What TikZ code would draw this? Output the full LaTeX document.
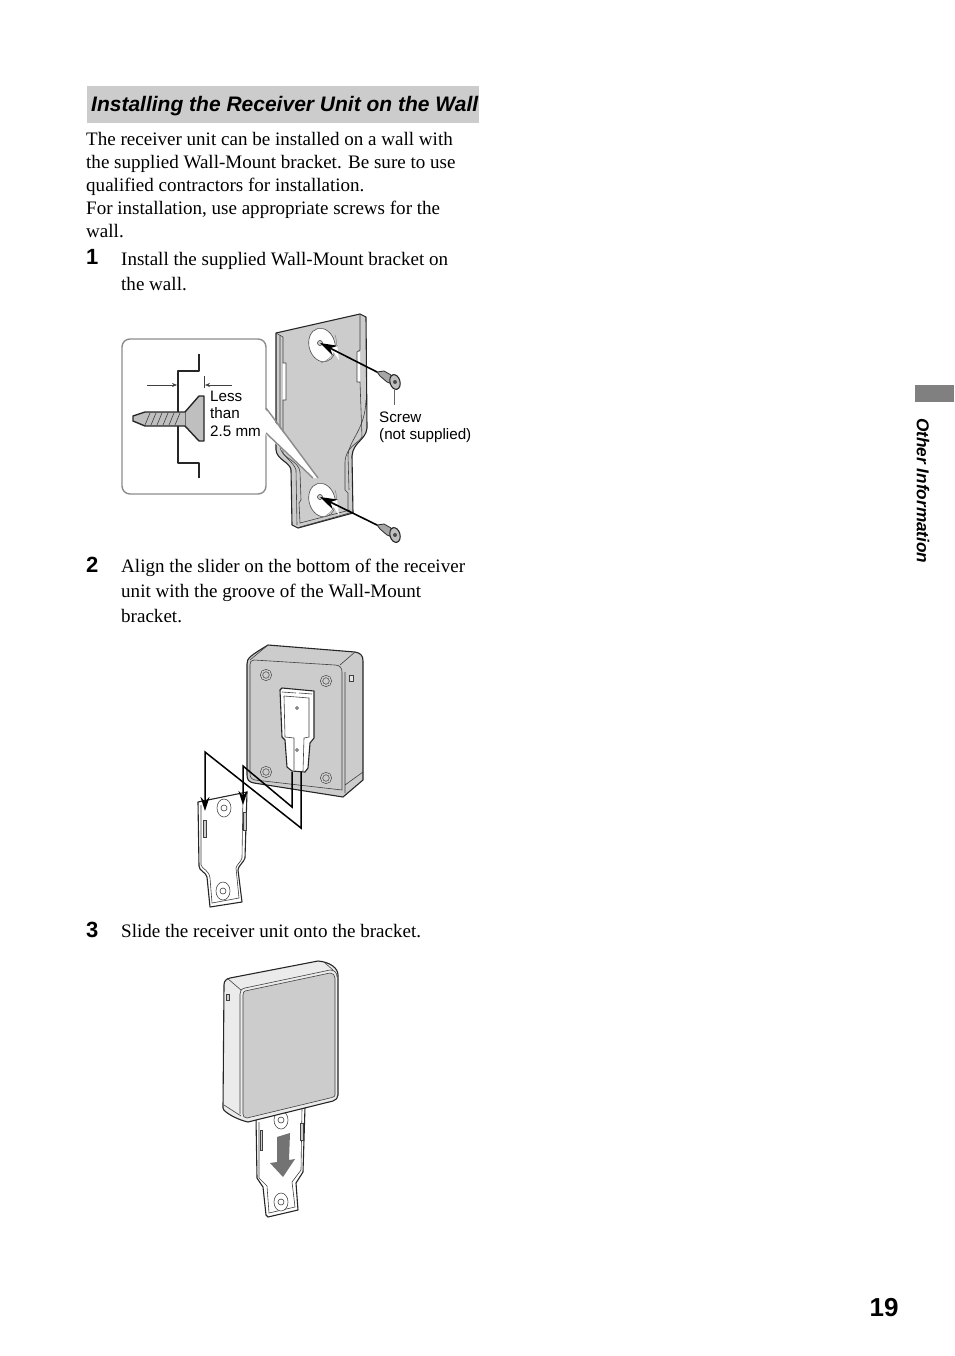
\documentclass[tikz,border=0pt]{standalone}
\usepackage{fontspec}
\setmainfont{Liberation Serif}
\setsansfont{Liberation Sans}
\usetikzlibrary{arrows.meta}

\begin{document}
\begin{tikzpicture}[
  x=1pt, y=-1pt,
  bodytext/.style={anchor=base west, inner sep=0pt, font=\fontsize{19.05}{23}\selectfont},
  stepnum/.style={anchor=base west, inner sep=0pt, font=\fontsize{22}{24}\selectfont\sffamily\bfseries},
  small/.style={anchor=base west, inner sep=0pt, font=\fontsize{15.2}{18}\selectfont\sffamily},
  part/.style={draw=black!85, line width=1.1pt, line join=round},
  thin part/.style={draw=black!75, line width=0.6pt},
  face/.style={fill=black!20},
  lead/.style={-{Stealth[length=17pt,width=11pt]}, draw=black, line width=1.6pt},
  guide/.style={-{Stealth[length=14pt,width=9pt]}, draw=black, line width=1.5pt, line join=miter},
  hole/.style={draw=black!70, line width=0.6pt, fill=white}
]
\useasboundingbox (0,0) rectangle (954,1356);

% heading and text
\fill[black!20] (87,86) rectangle (479,123);
\node[anchor=base west, inner sep=0pt, font=\fontsize{21}{24}\selectfont\sffamily\bfseries\itshape] (heading) at (91,111.5) {Installing the Receiver Unit on the Wall};
\node[bodytext] (intro1) at (86,146) {The receiver unit can be installed on a wall with};
\node[bodytext] (intro2) at (86,169) {the supplied Wall-Mount bracket. Be sure to use};
\node[bodytext] (intro3) at (86,192) {qualified contractors for installation.};
\node[bodytext] (intro4) at (86,215) {For installation, use appropriate screws for the};
\node[bodytext] (intro5) at (86,237) {wall.};

\node[stepnum] (num1) at (86,265) {1};
\node[bodytext] (step1a) at (121,265.5) {Install the supplied Wall-Mount bracket on};
\node[bodytext] (step1b) at (121,290) {the wall.};
\node[stepnum] (num2) at (86,572) {2};
\node[bodytext] (step2a) at (121,572) {Align the slider on the bottom of the receiver};
\node[bodytext] (step2b) at (121,597) {unit with the groove of the Wall-Mount};
\node[bodytext] (step2c) at (121,622) {bracket.};
\node[stepnum] (num3) at (86,937) {3};
\node[bodytext] (step3) at (121,937) {Slide the receiver unit onto the bracket.};

% bracket on the wall
\draw[part, face] (276,333) -- (360,314) -- (366,317) -- (367,428) .. controls (366,440) and (353,442) .. (352,456)
  -- (353,513) -- (298,528) -- (292,525) -- (291,470) .. controls (290,462) and (277,460) .. (276,450) -- cycle;
\fill[white] (283,363) rectangle (286,400) (357,352) rectangle (360,382);
\draw[thin part] (276,333) -- (283,337) -- (283,363) -- (286,363) -- (286,400) -- (283,400) -- (283,453)
  .. controls (285,458) and (299,462) .. (300,472) -- (301,500) -- (299,503) -- (300,523) -- (350,510);
\draw[thin part] (280,335) -- (280,447) .. controls (281,455) and (294,462) .. (296,470) -- (297,525);
\draw[thin part] (360,314) -- (360,350) -- (357,352) -- (357,382) -- (360,382) -- (362,437)
  .. controls (358,444) and (346,446) .. (345,462) -- (345,490) -- (348,493) -- (348,512);
\draw[thin part] (366,400) .. controls (365,430) and (349,440) .. (348,455) -- (349,490);
\draw[thin part] (300,527) -- (353,512);
\draw[hole, rotate around={15:(322,345)}] (322,345) ellipse (13 and 17);
\draw[hole, rotate around={15:(322,500)}] (322,500) ellipse (13 and 17);
\draw[draw=black!50, line width=0.5pt] (335,335) .. controls (339,345) and (335,358) .. (321,363);
\draw[draw=black!50, line width=0.5pt] (335,490) .. controls (339,500) and (335,513) .. (321,518);
\draw[thin part, fill=black!20] (320,343) circle (2.5);
\draw[thin part, fill=black!20] (320,497) circle (2.5);
\fill[white] (330,347) -- (337,345) -- (339,360) -- cycle (330,502) -- (337,500) -- (339,515) -- cycle;

% magnified view
\draw[draw=black!45, line width=1.4pt, fill=white, rounded corners=8pt] (122,339) rectangle (266,494);
\fill[white] (264,408) -- (318,478) -- (313,478) -- (264,433) -- cycle;
\draw[draw=black!45, line width=1.4pt] (266,408) -- (318,478) (266,433) -- (313,478);
\draw[part] (199,354) -- (199,371) -- (178,371) -- (178,463) -- (199,463) -- (199,478);
\coordinate (dimleft) at (177,385);
\coordinate (dimright) at (205,385);
\draw[thin part, -{Stealth[length=5pt,width=4pt]}] (147,385) -- (dimleft);
\draw[thin part, -{Stealth[length=5pt,width=4pt]}] (232,385) -- (dimright);
\draw[thin part] (204.5,376) -- (204.5,388);
\draw[part, fill=black!25, line width=1.4pt] (204,396) -- (204,441) -- (199,441) -- (185,426) -- (185,412) -- (199,396) -- cycle;
\draw[part, fill=black!25, line width=1.4pt] (185,412) -- (145,412) -- (133,416) -- (133,421) -- (145,426) -- (185,426);
\foreach \x in {148,154,...,178}
  \draw[thin part] (\x+2,413) -- (\x-3,425);
\node[small] (less) at (210,401) {Less};
\node[small] (than) at (210,418) {than};
\node[small] (size) at (210,436) {2.5 mm};

% screws
\foreach \sx/\sy/\nm in {395/382/top, 395/535/bot} {
  \draw[fill=black!35, draw=black!85, line width=0.8pt] (\sx-18,\sy-10) -- (\sx-11,\sy-11) -- (\sx-4,\sy-7) -- (\sx-3,\sy+2) -- (\sx-8,\sy) -- (\sx-15,\sy-6) -- cycle;
  \draw[part, fill=black!25, rotate around={15:(\sx,\sy)}] (\sx,\sy) ellipse (5 and 7.5);
  \fill[black!70] (\sx,\sy) circle (2);
  \coordinate (tail\nm) at (\sx-18,\sy-10);
}
\coordinate (holetop) at (320,343);
\coordinate (holebot) at (320,497);
\draw[lead] (tailtop) -- (holetop);
\draw[lead] (tailbot) -- (holebot);
\draw[draw=black!60, line width=1pt] (394,390) -- (394,405);
\node[small] (screw) at (379,422) {Screw};
\node[small] (nosup) at (379,439) {(not supplied)};

% back of receiver
\draw[part, face] (247,664) .. controls (247,658) and (250,656) .. (268,645) -- (355,652)
  .. controls (361,653) and (363,656) .. (363,661) -- (363,780) -- (343,797) -- (254,783)
  .. controls (249,782) and (247,780) .. (247,775) -- cycle;
\draw[thin part] (254,660) -- (335,665) .. controls (340,665) and (342,668) .. (342,672) -- (342,790) -- (255,780)
  .. controls (251,779) and (250,777) .. (250,773) -- (250,665) .. controls (250,662) and (251,660) .. (254,660);
\draw[thin part] (268,645) -- (250,660) (355,652) -- (340,665) (363,772) -- (345,785) (345,672) -- (345,793);
\draw[thin part, fill=black!10] (349,675) rectangle (353,681);
\foreach \hx/\hy in {266/675, 326/681, 266/772, 326/778}
  \draw[thin part, double=black!20, double distance=1.5pt] (\hx,\hy) circle (4.5);
\draw[part, fill=white] (280,690) -- (282,688) -- (314,691) -- (314,738) -- (310,743) -- (308,768) -- (305,772)
  -- (292,771) -- (287,767) -- (285,740) -- (282,737) -- cycle;
\draw[thin part] (284,696) -- (285,737) -- (294,738) -- (294,770);
\draw[thin part] (284,696) -- (309,698) -- (309,737) -- (304,738) -- (303,771);
\draw[thin part] (282,692) -- (296,693) (299,693) -- (312,694);
\draw[thin part, fill=black!20] (297,708) circle (1.5);
\draw[thin part, fill=black!20] (297,750) circle (1.5);

% loose bracket
\draw[part, fill=white] (198,802) -- (247,792) -- (245,858) .. controls (244,862) and (238,866) .. (238,870) -- (242,902) -- (210,907) -- (207,877)
  .. controls (206,872) and (199,871) .. (199,866) -- cycle;
\fill[black!20] (203,820) rectangle (206,837) (243,812) rectangle (246,830);
\draw[thin part] (201,805) -- (201,865) .. controls (202,869) and (209,870) .. (210,878) -- (212,903) -- (239,898) -- (236,868) .. controls (237,864) and (241,862) .. (242,858) -- (243,795);
\draw[thin part] (203,820) rectangle (206,837) (243,812) rectangle (246,830);
\draw[hole] (224,808) ellipse (7 and 9);
\draw[hole] (223,891) ellipse (7 and 9);
\draw[thin part] (224,808) circle (3);
\draw[thin part] (223,891) circle (3);

% guides to the slider
\coordinate (slotin) at (292,772);
\coordinate (slotout) at (301,772);
\coordinate (tipin) at (243,805);
\coordinate (tipout) at (205,811);
\draw[guide] (slotin) -- (292,807) -- (243,766) -- (tipin);
\draw[guide] (slotout) -- (301,828) -- (205,752) -- (tipout);

% receiver on bracket
\draw[part, fill=white] (256,1118) -- (305,1107) -- (303,1172) -- (296,1183) -- (298,1210) -- (268,1217) -- (266,1215) -- (263,1187) -- (257,1178) -- cycle;
\draw[thin part] (259,1122) -- (259,1178) -- (267,1186) -- (269,1213) -- (295,1207) -- (292,1182) -- (301,1170) -- (302,1108);
\fill[black!20] (260,1130) rectangle (262,1150) (300,1123) rectangle (303,1140);
\draw[thin part] (260,1130) rectangle (262,1150) (300,1123) rectangle (303,1140);
\draw[hole] (281,1120) ellipse (7 and 9);
\draw[hole] (281,1202) ellipse (7 and 9);
\draw[thin part] (281,1120) circle (3);
\draw[thin part] (281,1202) circle (3);
\draw[part, fill=black!8] (224,985) .. controls (224,981) and (226,979) .. (230,978) -- (318,961)
  .. controls (330,962) and (338,968) .. (338,975) -- (338,1095) .. controls (338,1098) and (336,1100) .. (333,1101) -- (248,1122)
  .. controls (238,1120) and (223,1112) .. (223,1108) -- cycle;
\draw[thin part] (245,988) -- (330,970) .. controls (335,970) and (337,973) .. (337,977);
\draw[thin part] (240,1114) -- (240,994) .. controls (240,991) and (241,989) .. (245,988);
\draw[thin part, face] (245,991) -- (330,973) .. controls (333,973) and (335,975) .. (335,978) -- (335,1095) .. controls (335,1096) and (334,1097) .. (332,1097.5) -- (247,1118)
  .. controls (244,1118) and (243,1116) .. (243,1114) -- (243,995) .. controls (243,993) and (244,991) .. (245,991);
\draw[thin part] (227,978) -- (241,990) (325,963) -- (333,970) (224,1105) -- (241,1116);
\draw[thin part, fill=black!20] (226,994) rectangle (229,1000);
\fill[black!55] (277,1137) -- (290,1133) -- (289,1160) -- (295,1159) -- (283,1177) -- (270,1163) -- (277,1162) -- cycle;

% page furniture
\fill[black!50] (915,385) rectangle (954,402);
\node[inner sep=0pt, rotate=-90, anchor=west, font=\fontsize{17.2}{19}\selectfont\sffamily\bfseries\itshape] (section) at (923,418) {Other Information};
\node[anchor=base, inner sep=0pt, font=\fontsize{26}{28}\selectfont\sffamily\bfseries] (pagenum) at (884,1316) {19};
\end{tikzpicture}
\end{document}
